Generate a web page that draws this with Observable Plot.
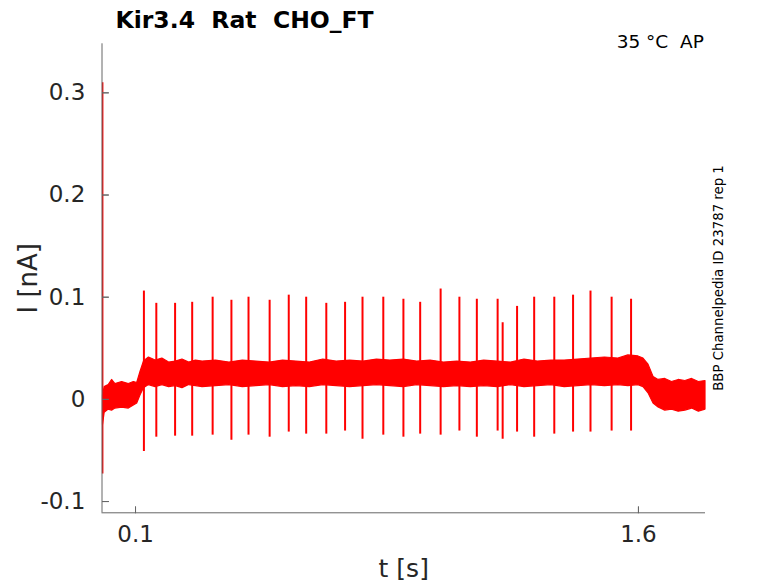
<!DOCTYPE html>
<html><head><meta charset="utf-8">
<script src="https://cdn.jsdelivr.net/npm/d3@7"></script>
<script src="https://cdn.jsdelivr.net/npm/@observablehq/plot@0.6"></script>
<style>html,body{margin:0;padding:0;background:#fff}#chart svg{display:block}</style>
</head><body><div id="chart"></div>
<script>
const title = "Kir3.4\u00a0\u00a0Rat\u00a0\u00a0CHO_FT";
const condition = "35 °C\u00a0\u00a0AP";
const sideNote = "BBP Channelpedia ID 23787 rep 1";
const xLabel = "t [s]";
const yLabel = "I [nA]";
const xTicks = [0.1, 1.6];
const yTicks = [-0.1, 0, 0.1, 0.2, 0.3];
const xDomain = [0, 1.8];
const yDomain = [-0.111, 0.348];

// noise band envelope of the current trace
const bandTime = [0.003,0.008,0.02,0.03,0.04,0.06,0.08,0.095,0.105,0.115,
  0.125,0.14,0.16,0.18,0.20,0.22,0.24,0.26,0.28,0.30,
  0.34,0.38,0.42,0.46,0.50,0.54,0.58,0.62,0.66,0.70,
  0.74,0.78,0.82,0.86,0.90,0.94,0.98,1.02,1.06,1.10,
  1.14,1.18,1.22,1.26,1.30,1.34,1.38,1.42,1.46,1.50,
  1.54,1.57,1.60,1.615,1.63,1.645,1.66,1.68,1.70,1.72,
  1.74,1.76,1.78,1.80];
const bandHigh = [0.004,0.012,0.014,0.019,0.015,0.017,0.015,0.017,0.016,0.027,
  0.037,0.041,0.038,0.040,0.036,0.037,0.039,0.036,0.038,0.037,
  0.038,0.036,0.038,0.037,0.036,0.038,0.037,0.036,0.039,0.037,
  0.038,0.037,0.039,0.038,0.039,0.037,0.038,0.036,0.037,0.036,
  0.038,0.037,0.036,0.039,0.037,0.038,0.038,0.039,0.040,0.041,
  0.040,0.043,0.042,0.040,0.034,0.022,0.019,0.020,0.017,0.019,
  0.018,0.020,0.017,0.018];
const bandLow = [-0.025,-0.013,-0.010,-0.011,-0.009,-0.008,-0.009,-0.006,-0.004,0.004,
  0.011,0.014,0.012,0.014,0.012,0.013,0.011,0.014,0.013,0.012,
  0.013,0.014,0.012,0.013,0.014,0.012,0.013,0.012,0.014,0.013,
  0.012,0.013,0.014,0.013,0.012,0.014,0.013,0.012,0.013,0.012,
  0.013,0.012,0.014,0.012,0.013,0.014,0.012,0.013,0.014,0.013,
  0.014,0.013,0.014,0.012,0.006,-0.004,-0.008,-0.011,-0.010,-0.012,
  -0.011,-0.009,-0.012,-0.010];

// action-potential-clamp spikes
const spikeTime = [0.125,0.162,0.218,0.269,0.330,0.386,0.437,0.500,0.557,0.609,
  0.669,0.725,0.777,0.839,0.899,0.949,1.010,1.066,1.118,1.180,
  1.195,1.238,1.289,1.349,1.405,1.457,1.520,1.578];
const spikePeak = [0.106,0.094,0.094,0.095,0.100,0.097,0.100,0.097,0.102,0.100,
  0.094,0.095,0.100,0.100,0.098,0.095,0.108,0.100,0.098,0.098,
  0.075,0.091,0.100,0.100,0.102,0.106,0.100,0.098];
const spikeTrough = [-0.051,-0.037,-0.036,-0.036,-0.035,-0.040,-0.035,-0.037,-0.032,-0.034,
  -0.034,-0.031,-0.039,-0.035,-0.037,-0.034,-0.035,-0.031,-0.037,-0.031,
  -0.039,-0.032,-0.037,-0.034,-0.032,-0.032,-0.031,-0.031];

// capacitive transient at trace start
const onsetTime = [0.002];
const onsetPeak = [0.31];
const onsetTrough = [-0.073];

const band = bandTime.map((t, i) => ({t, hi: bandHigh[i], lo: bandLow[i]}));
const spikes = spikeTime.map((t, i) => ({t, hi: spikePeak[i], lo: spikeTrough[i]}));
const onset = onsetTime.map((t, i) => ({t, hi: onsetPeak[i], lo: onsetTrough[i]}));

const red = "#ff0000";
const axisGray = "#666666";
const textDark = "#262626";

const W = 778, H = 583;
const mL = 101.5, mR = 73, mT = 43.3, mB = 70.7;
const frameW = W - mL - mR, frameH = H - mT - mB;
const tickLen = 6.5;
// symbols that draw an inward tick line from the anchor point
const tickUp = {draw(context) { context.moveTo(0, 0); context.lineTo(0, -tickLen); }};
const tickRight = {draw(context) { context.moveTo(0, 0); context.lineTo(tickLen, 0); }};

const chart = Plot.plot({
  width: W,
  height: H,
  marginLeft: mL,
  marginRight: mR,
  marginTop: mT,
  marginBottom: mB,
  style: {fontFamily: "DejaVu Sans", background: "#fff", color: textDark, overflow: "visible"},
  x: {domain: xDomain},
  y: {domain: yDomain},
  marks: [
    Plot.areaY(band, {x: "t", y1: "lo", y2: "hi", fill: red, stroke: red, strokeWidth: 1.2, curve: "linear"}),
    Plot.ruleX(spikes, {x: "t", y1: "lo", y2: "hi", stroke: red, strokeWidth: 2}),
    Plot.ruleX(onset, {x: "t", y1: "lo", y2: "hi", stroke: red, strokeWidth: 1.5}),
    Plot.ruleX([xDomain[0]], {stroke: axisGray, strokeWidth: 1}),
    Plot.ruleY([yDomain[0]], {stroke: axisGray, strokeWidth: 1}),
    // inward tick marks
    Plot.axisX({anchor: "top", ticks: xTicks, tickSize: tickLen, tickFormat: () => "", dy: frameH,
      stroke: axisGray, strokeWidth: 1, label: null}),
    Plot.axisY({anchor: "right", ticks: yTicks, tickSize: tickLen, tickFormat: () => "", dx: -frameW,
      stroke: axisGray, strokeWidth: 1, label: null}),
    Plot.dot(xTicks, {x: d => d, y: () => yDomain[0], symbol: tickUp, stroke: axisGray, fill: "none", strokeWidth: 1}),
    Plot.dot(yTicks, {x: () => xDomain[0], y: d => d, symbol: tickRight, stroke: axisGray, fill: "none", strokeWidth: 1}),
    Plot.axisX({ticks: xTicks, tickSize: 0, tickPadding: 12.7, tickFormat: d => String(d),
      fill: textDark, fontSize: 23, label: null}),
    Plot.axisY({ticks: yTicks, tickSize: 0, tickPadding: 16.7, tickFormat: d => String(d),
      fill: textDark, fontSize: 23, label: null}),
    Plot.text([xLabel], {frameAnchor: "bottom", textAnchor: "middle", lineAnchor: "bottom", dy: 64.4, fontSize: 25, fill: textDark}),
    Plot.text([yLabel], {frameAnchor: "left", textAnchor: "middle", lineAnchor: "bottom", rotate: -90, dx: -64.8, fontSize: 26, fill: textDark}),
    Plot.text([title], {frameAnchor: "top-left", textAnchor: "start", lineAnchor: "bottom", dx: 13.5, dy: -16.3,
      fontSize: 23.5, fontWeight: "bold", fill: "#000"}),
    Plot.text([condition], {frameAnchor: "top-right", textAnchor: "end", lineAnchor: "bottom", dx: -1.7, dy: 4,
      fontSize: 18.5, fill: "#000"}),
    Plot.text([sideNote], {frameAnchor: "right", textAnchor: "middle", lineAnchor: "bottom", rotate: -90, dx: 17.3, dy: -0.3,
      fontSize: 13.3, fill: "#000"})
  ]
});
document.getElementById("chart").appendChild(chart);
</script>
</body></html>
